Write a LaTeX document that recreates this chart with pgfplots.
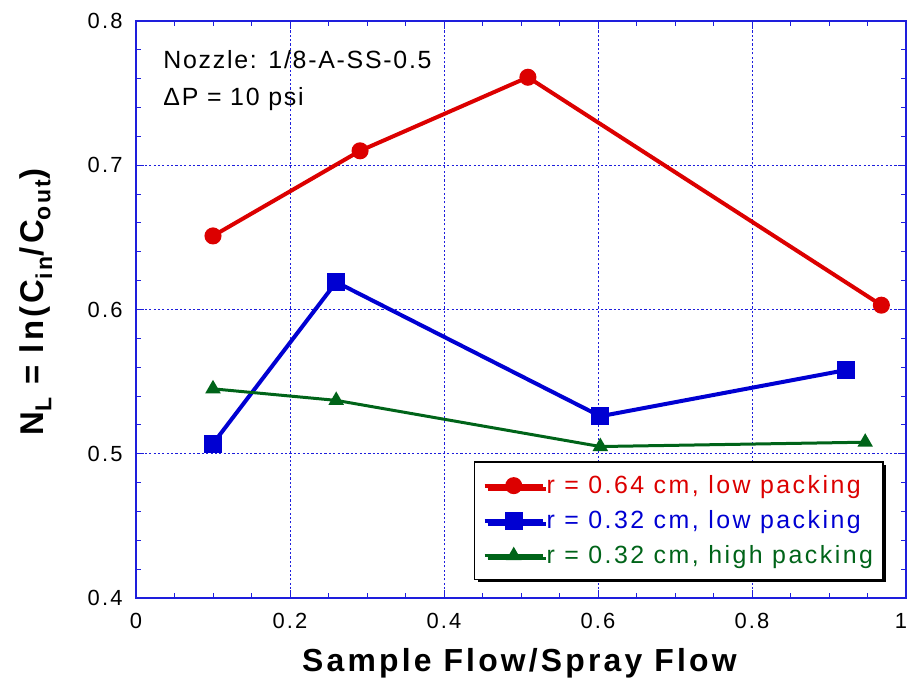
\documentclass[border=0pt]{standalone}
\usepackage{fontspec}
\setmainfont{Liberation Sans}[LetterSpace=10]
\newfontfamily\notefont{Liberation Sans}[LetterSpace=7]
\usepackage{pgfplots}
\pgfplotsset{compat=1.18}
\usetikzlibrary{calc,shadows}

\definecolor{redline}{RGB}{220,0,0}
\definecolor{blueline}{RGB}{0,0,210}
\definecolor{greenline}{RGB}{0,100,25}
\definecolor{axblue}{RGB}{30,30,220}

\begin{document}
\begin{tikzpicture}
\begin{axis}[
  name=ax,
  scale only axis,
  width=770bp, height=577bp,
  xmin=0, xmax=1, ymin=0.4, ymax=0.8,
  xtick={0,0.2,0.4,0.6,0.8,1},
  xticklabels={0,0.2,0.4,0.6,0.8,\hspace*{-10bp}1},
  ytick={0.4,0.5,0.6,0.7,0.8},
  minor x tick num=3, minor y tick num=4,
  tick align=inside,
  major tick length=8bp, minor tick length=5bp,
  axis line style={axblue, line width=1.3pt},
  tick style={axblue, line width=0.9pt},
  grid=major,
  major grid style={axblue, dash pattern=on 2.2pt off 2.2pt, line width=0.7pt},
  /pgf/number format/assume math mode=true,
  tick label style={font=\fontsize{22}{26}\selectfont},
  xticklabel style={yshift=-12bp},
  yticklabel style={xshift=-10bp},
  xlabel={\textbf{Sample Flow/Spray Flow}},
  ylabel={\textbf{N\textsubscript{L} = ln(C\textsubscript{in}/C\textsubscript{out})}},
  every axis x label/.style={at={(rel axis cs:0.5,0)}, anchor=base, yshift=-73bp,
    font=\fontsize{32}{36}\selectfont},
  every axis y label/.style={at={(rel axis cs:0,0.516)}, rotate=90, anchor=base, yshift=92bp,
    font=\fontsize{33}{37}\selectfont},
  legend style={
    at={(0.971,0.031)}, anchor=south east,
    draw=black, line width=1.3pt, fill=white,
    drop shadow={shadow xshift=3bp, shadow yshift=-3bp, opacity=1, fill=black},
    font=\fontsize{25}{29}\selectfont,
    inner xsep=8bp, inner ysep=12bp,
    row sep=11.5bp,
  },
  legend cell align=left,
  legend image code/.code={
    \draw[mark repeat=2, mark phase=2] plot coordinates {(0bp,0bp) (29bp,0bp) (58bp,0bp)};
  },
]

% r = 0.64 cm, low packing
\addplot[redline, line width=4bp, mark=*, mark size=6.5bp, mark options={solid}]
  coordinates {(0.100,0.651) (0.291,0.710) (0.509,0.761) (0.968,0.603)};
\addlegendentry{\textcolor{redline}{r = 0.64 cm, low packing}}

% r = 0.32 cm, low packing
\addplot[blueline, line width=4bp, mark=square*, mark size=7bp, mark options={solid}]
  coordinates {(0.100,0.507) (0.260,0.619) (0.603,0.526) (0.922,0.558)};
\addlegendentry{\textcolor{blueline}{r = 0.32 cm, low packing}}

% r = 0.32 cm, high packing
\addplot[greenline, line width=3bp, mark=triangle*, mark size=6bp, mark options={solid}]
  coordinates {(0.100,0.545) (0.260,0.537) (0.603,0.505) (0.947,0.508)};
\addlegendentry{\textcolor{greenline}{r = 0.32 cm, high packing}}

\node[anchor=base west, font=\notefont\fontsize{25}{29}\selectfont] at (rel axis cs:0.031,0.918) {Nozzle: 1/8-A-SS-0.5};
\node[anchor=base west, font=\notefont\fontsize{25}{29}\selectfont] at (rel axis cs:0.031,0.854) {ΔP = 10 psi};
\end{axis}
\pgfresetboundingbox
\path[use as bounding box] ($(ax.south west)+(-136bp,-87bp)$) rectangle ($(ax.north east)+(2bp,21bp)$);
\end{tikzpicture}
\end{document}
